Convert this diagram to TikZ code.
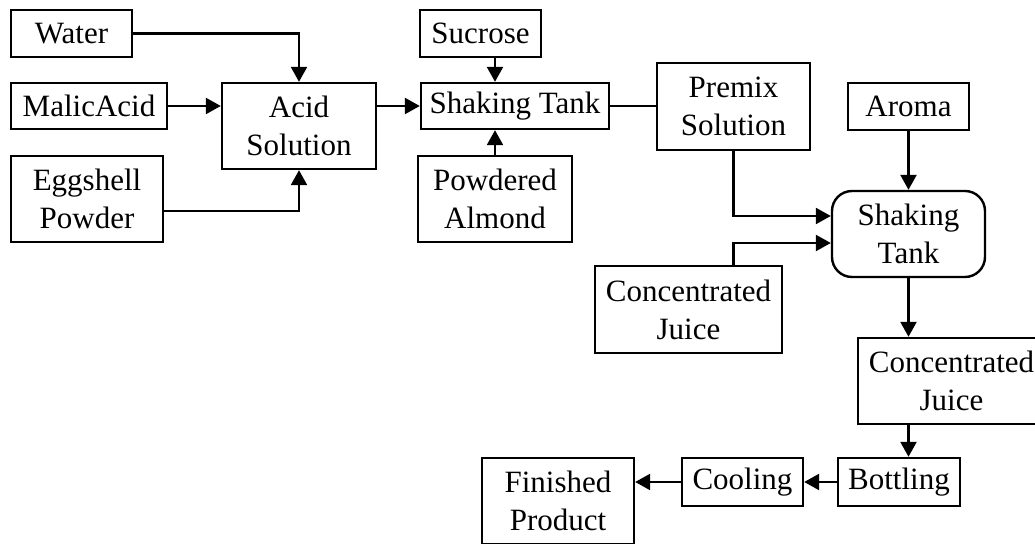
\documentclass[tikz,border=0pt]{standalone}
\usepackage{fontspec}
\setmainfont{Liberation Serif}
\usetikzlibrary{arrows.meta}

\begin{document}
\begin{tikzpicture}
  [x=0.5pt,y=-0.5pt,
   box/.style={rectangle,draw=black,line width=1.2pt,inner sep=0pt,align=center,font=\fontsize{15.5}{19}\selectfont},
   flow/.style={black,line width=1.2pt,-{Triangle[length=7.5pt,width=8pt]}}]
  \useasboundingbox (0,0) rectangle (1035,544);

  \node[box,minimum width=60.5pt,minimum height=23.5pt] (water) at (71.5,33.5) {Water};
  \node[box,minimum width=78pt,minimum height=23pt] (malic) at (89,106) {MalicAcid};
  \node[box,minimum width=76pt,minimum height=43pt] (egg) at (87,199) {Eggshell\\Powder};
  \node[box,minimum width=77pt,minimum height=43pt] (acid) at (299,126) {Acid\\Solution};

  \node[box,minimum width=60.5pt,minimum height=23.5pt] (sucrose) at (480.5,33.5) {Sucrose};
  \node[box,minimum width=94pt,minimum height=23pt] (st1) at (515,106) {Shaking Tank};
  \node[box,minimum width=77pt,minimum height=43pt] (powd) at (495,199) {Powdered\\Almond};
  \node[box,minimum width=76.5pt,minimum height=43.5pt] (premix) at (733.5,106.5) {Premix\\Solution};

  \node[box,minimum width=60.5pt,minimum height=23.5pt] (aroma) at (908.5,106.5) {Aroma};
  \node[box,rounded corners=10pt,minimum width=76.5pt,minimum height=43pt] (st2) at (908.5,234) {Shaking\\Tank};
  \node[box,minimum width=93.5pt,minimum height=43.5pt] (conc1) at (688.5,309.5) {Concentrated\\Juice};
  \node[box,minimum width=93.5pt,minimum height=43pt] (conc2) at (951.5,381) {Concentrated\\Juice};

  \node[box,minimum width=61pt,minimum height=24pt] (bottle) at (899,482) {Bottling};
  \node[box,minimum width=60.5pt,minimum height=24pt] (cool) at (742.5,482) {Cooling};
  \node[box,minimum width=76pt,minimum height=43pt] (fin) at (558,501) {Finished\\Product};

  \draw [flow] (water) -| (acid);
  \draw [flow] (malic.east) -- (malic.east -| acid.west);
  \draw [flow] ([yshift=-6pt]egg.east) -| (acid);
  \draw [flow] (acid.east |- st1) -- (st1);

  \draw [flow] (sucrose.south -| powd) -- (st1.north -| powd);
  \draw [flow] (powd) -- (st1.south -| powd);
  \draw [black,line width=1.2pt] (st1.east) -- (st1.east -| premix.west);

  \draw [flow] (aroma) -- (st2);
  \draw [flow] (premix.south) |- ([yshift=9pt]st2.west);
  \draw [flow] (conc1.north -| premix) |- ([yshift=-4.5pt]st2.west);
  \draw [flow] (st2) -- (st2.south |- conc2.north);
  \draw [flow] (conc2.south -| st2) -- (bottle.north -| st2);

  \draw [flow] (bottle) -- (cool);
  \draw [flow] (cool) -- (cool.west -| fin.east);
\end{tikzpicture}
\end{document}
